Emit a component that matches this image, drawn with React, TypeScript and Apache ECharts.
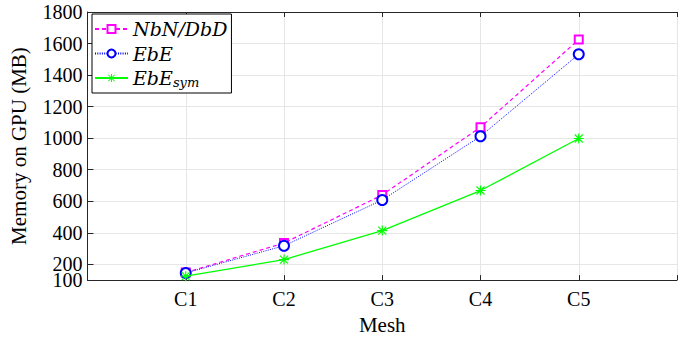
import React, { useEffect, useRef } from "react";
import * as echarts from "echarts";

const categories = ["C1", "C2", "C3", "C4", "C5"];
const nbnDbd = [148, 335, 640, 1070, 1625];
const ebe = [145, 318, 608, 1012, 1532];
const ebeSym = [125, 230, 414, 668, 998];
const yTicks = [100, 200, 400, 600, 800, 1000, 1200, 1400, 1600, 1800];
const yLabelsMain = [200, 400, 600, 800, 1000, 1200, 1400, 1600, 1800];
const yLabelsMin = [100];

const ASTERISK =
  "path://M4.4 0H5.6V10H4.4Z M0 4.4H10V5.6H0Z M0.6 1.4L1.4 0.6L9.4 8.6L8.6 9.4Z M8.6 0.6L9.4 1.4L1.4 9.4L0.6 8.6Z";

const FONT = "Liberation Serif";
const IFONT = "DejaVu Serif";

export default function App() {
  const ref = useRef<HTMLDivElement>(null);
  useEffect(() => {
    if (!ref.current) return;
    const chart = echarts.init(ref.current, undefined, { renderer: "svg" });
    const toPts = (arr: number[]) => arr.map((v, i) => [i + 1, v]);
    const axisColor = "#262626";
    const lbl = (size: number) => ({
      fontFamily: FONT,
      fontSize: size,
      color: "#000",
    });
    const yBase = {
      type: "value",
      min: 100,
      max: 1800,
      position: "left",
    };
    chart.setOption({
      animation: false,
      backgroundColor: "#ffffff",
      textStyle: { fontFamily: FONT },
      grid: { left: 87.5, top: 12, width: 600, height: 274 },
      legend: {
        left: 92,
        top: 14,
        orient: "vertical",
        backgroundColor: "#ffffff",
        borderColor: "#000000",
        borderWidth: 1,
        borderRadius: 0,
        padding: [4, 4, 4, 2],
        itemWidth: 33,
        itemHeight: 10,
        itemGap: 2.5,
        data: ["NbN/DbD", "EbE", "EbE_sym"],
        formatter: (name: string) =>
          name === "EbE_sym" ? "{i|EbE}{s|sym}" : "{i|" + name + "}",
        textStyle: {
          lineHeight: 22,
          rich: {
            i: {
              fontFamily: IFONT,
              fontStyle: "italic",
              fontSize: 19,
              color: "#000",
              lineHeight: 22,
            },
            s: {
              fontFamily: IFONT,
              fontStyle: "italic",
              fontSize: 13,
              color: "#000",
              padding: [8, 0, 0, 0],
              lineHeight: 22,
            },
          },
        },
      },
      xAxis: [
        {
          type: "value",
          min: 0,
          max: 6,
          interval: 1,
          position: "bottom",
          name: "Mesh",
          nameLocation: "middle",
          nameGap: 30,
          nameTextStyle: lbl(21),
          axisLine: { show: true, lineStyle: { color: axisColor, width: 1 } },
          axisTick: { show: true, inside: true, length: 5, lineStyle: { color: axisColor } },
          axisLabel: {
            margin: 9,
            ...lbl(20),
            formatter: (v: number) => categories[v - 1] ?? "",
          },
          splitLine: { show: true, lineStyle: { color: "#e6e6e6", width: 1 } },
        },
        {
          type: "value",
          min: 0,
          max: 6,
          interval: 1,
          position: "top",
          axisLine: { show: true, lineStyle: { color: axisColor, width: 1 } },
          axisTick: { show: true, inside: true, length: 5, lineStyle: { color: axisColor } },
          axisLabel: { show: false },
          splitLine: { show: false },
        },
      ],
      yAxis: [
        {
          ...yBase,
          name: "Memory on GPU (MB)",
          nameLocation: "middle",
          nameGap: 58,
          nameTextStyle: lbl(21),
          axisLine: { show: true, lineStyle: { color: axisColor, width: 1 } },
          axisTick: {
            show: true,
            inside: true,
            length: 6,
            customValues: yTicks,
            lineStyle: { color: axisColor },
          },
          axisLabel: {
            margin: 5,
            ...lbl(20),
            lineHeight: 14,
            customValues: yLabelsMain,
            formatter: (v: number) => String(v),
          },
          splitLine: { show: true, lineStyle: { color: "#e6e6e6", width: 1 } },
        },
        {
          ...yBase,
          axisLine: { show: false },
          axisTick: { show: false },
          splitLine: { show: false },
          axisLabel: {
            margin: 5,
            ...lbl(20),
            lineHeight: 14,
            customValues: yLabelsMin,
            showMinLabel: true,
            formatter: (v: number) => String(v),
          },
        },
      ],
      series: [
        {
          name: "NbN/DbD",
          type: "line",
          data: toPts(nbnDbd),
          symbol: "emptyRect",
          symbolSize: 8,
          lineStyle: { color: "#ff00ff", width: 1.2, type: [4, 3] },
          itemStyle: { color: "#ff00ff", borderWidth: 1.3 },
          z: 3,
        },
        {
          name: "EbE",
          type: "line",
          data: toPts(ebe),
          symbol: "emptyCircle",
          symbolSize: 10,
          lineStyle: { color: "#0000ff", width: 1, type: [1, 1.3] },
          itemStyle: { color: "#0000ff", borderWidth: 1.4 },
          z: 4,
        },
        {
          name: "EbE_sym",
          type: "line",
          data: toPts(ebeSym),
          symbol: ASTERISK,
          symbolSize: 10,
          lineStyle: { color: "#00ff00", width: 1.3, type: "solid" },
          itemStyle: { color: "#00ff00" },
          z: 5,
        },
      ],
    });
    return () => chart.dispose();
  }, []);
  return (
    <div
      ref={ref}
      style={{ position: "absolute", left: 0, top: 0, width: 680, height: 340 }}
    />
  );
}
